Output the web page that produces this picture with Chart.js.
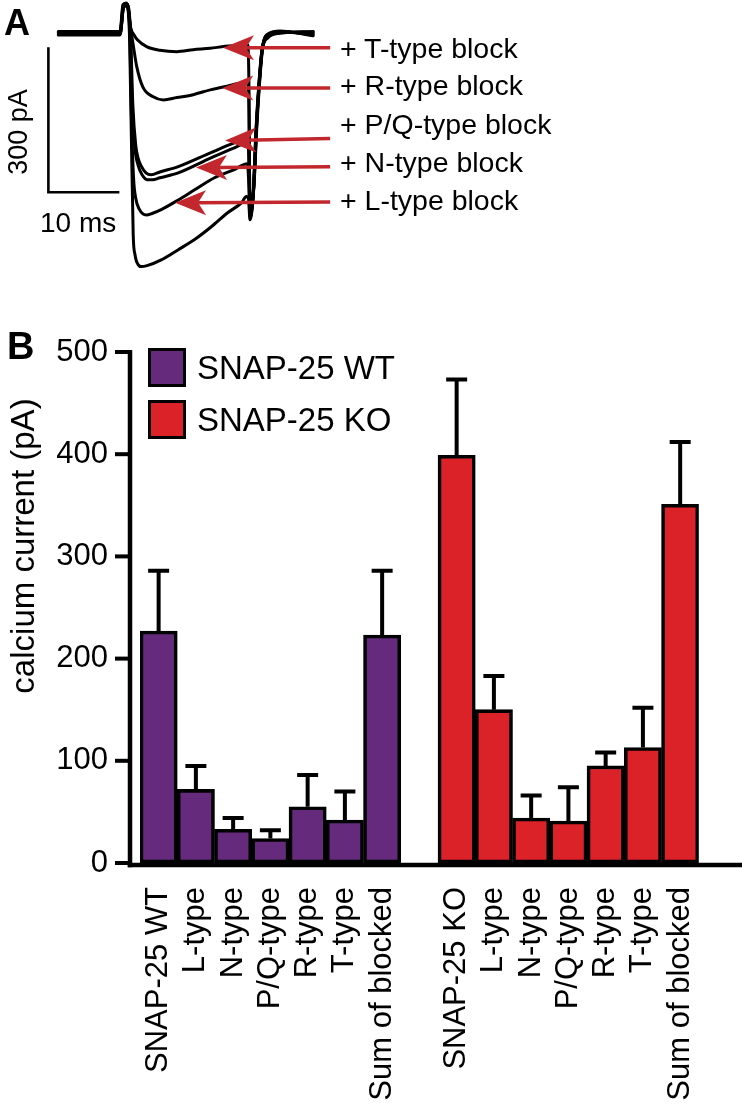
<!DOCTYPE html>
<html>
<head>
<meta charset="utf-8">
<script src="https://cdn.jsdelivr.net/npm/chart.js@4.4.1/dist/chart.umd.min.js"></script>
<style>
  html, body { margin: 0; padding: 0; background: #fff; }
  body { width: 742px; height: 1115px; position: relative; overflow: hidden;
         font-family: "Liberation Sans", Arial, Helvetica, sans-serif; color: #000; }
  canvas { position: absolute; left: 0; }
  #chartA { top: 0; }
  #chartB { top: 300px; }
  .txt { position: absolute; line-height: 1; white-space: nowrap; }
  .panel { font-weight: bold; }
  .rot { transform: translate(-50%, -50%) rotate(-90deg); }
  .legend-row { position: absolute; left: 148px; height: 39px; display: flex; align-items: center; }
  .swatch { width: 38px; height: 39px; box-sizing: border-box; border: 3px solid #000; }
  .legend-row span { font-size: 33px; line-height: 1; margin-left: 11px; }
</style>
</head>
<body>
<canvas id="chartA" width="742" height="290"></canvas>
<canvas id="chartB" width="742" height="815"></canvas>

<div class="txt panel" style="left:4px; top:5px; font-size:36px;">A</div>
<div class="txt panel" style="left:7px; top:327px; font-size:38px;">B</div>
<div class="txt rot" style="left:18px; top:132px; font-size:27px;">300 pA</div>
<div class="txt" style="left:40px; top:209px; font-size:28px;">10 ms</div>
<div class="txt rot" style="left:22px; top:546px; font-size:33px;">calcium current (pA)</div>
<div id="arrowLabels"></div>
<div id="legendB"></div>

<script>
// ---- panel A: example current traces, [time (ms), current (pA)] ----
var traceControl = [[-8.7,3],[0,3],[0.4,58],[0.85,62],[1.3,6],[1.55,-180],[1.85,-418],[2.1,-459],[2.55,-480],[3.0,-484],[3.8,-482],[5.8,-470],[8.2,-449],[10.5,-428],[12.9,-401],[15.2,-372],[17.1,-352],[17.8,-339],[18.1,-345],[18.3,-387],[18.7,-345],[19.15,-200],[19.6,-97],[20.0,-35],[20.85,-10],[22.5,-1],[27.2,3]];
var traceL = [[-8.7,1.5],[0,1.5],[0.45,57],[0.9,60],[1.35,8],[1.6,-170],[1.9,-300],[2.2,-342],[2.7,-365],[3.7,-377],[4.5,-374],[5.8,-366],[8.2,-346],[10.5,-325],[13.3,-300],[16.1,-283],[17.9,-271],[18.1,-300],[18.3,-382],[18.75,-340],[19.2,-196],[19.65,-94],[20.05,-33],[20.9,-8],[22.5,0],[27.2,2]];
var traceN = [[-8.7,0],[0,0],[0.5,56],[0.95,59],[1.4,10],[1.7,-150],[2.1,-240],[2.6,-277],[3.1,-294],[3.8,-304],[4.6,-304],[5.6,-300],[8.2,-290],[12.8,-259],[16.1,-238],[17.95,-228],[18.15,-260],[18.3,-376],[18.75,-336],[19.2,-193],[19.65,-91],[20.05,-30],[20.9,-6],[22.5,1],[27.2,0]];
var tracePQ = [[-8.7,-1.5],[0,-1.5],[0.5,55],[0.95,58],[1.45,10],[1.8,-150],[2.2,-232],[2.55,-260],[2.95,-275],[3.65,-290],[4.4,-294],[5.6,-288],[8.2,-277],[12.8,-248],[16.1,-228],[18.0,-219],[18.15,-250],[18.3,-370],[18.8,-330],[19.25,-190],[19.7,-89],[20.1,-28],[20.95,-5],[22.5,2],[27.2,-2]];
var traceR = [[-8.7,-3],[0,-3],[0.5,54],[1.0,57],[1.5,8],[1.85,-25],[2.35,-70],[3.2,-112],[4.6,-132],[6.1,-139],[8.0,-134],[10.3,-128],[12.7,-118],[14.5,-112],[18.0,-103],[18.15,-150],[18.3,-362],[18.8,-324],[19.25,-188],[19.7,-87],[20.1,-26],[20.95,-3],[22.5,3],[27.2,-4]];
var traceT = [[-8.7,-4.5],[0,-4.5],[0.5,53],[1.0,56],[1.5,10],[2.0,-5],[2.4,-14],[3.8,-29],[5.6,-36],[8.0,-39],[10.3,-35],[12.7,-32],[14.8,-28],[18.0,-25],[18.15,-100],[18.3,-355],[18.85,-318],[19.3,-186],[19.75,-85],[20.15,-24],[21.0,-1],[22.5,4],[27.2,-6]];

// scale bar: 10 ms x 300 pA
var scaleBarT = [-10.1, -10.1, -0.1];
var scaleBarI = [-30, -330, -330];

// arrows pointing at each trace
var arrowLabels = ['+ T-type block', '+ R-type block', '+ P/Q-type block', '+ N-type block', '+ L-type block'];
var arrowTipT = [14.5, 14.4, 14.8, 10.7, 7.75];
var arrowTipI = [-31, -114, -223, -279, -352];
var arrowTailT = [29.6, 29.6, 29.6, 29.6, 29.6];
var arrowTailI = [-31, -114, -219, -277, -350];

// ---- panel B: calcium current (pA), mean and SEM ----
var wtLabels = ['SNAP-25 WT', 'L-type', 'N-type', 'P/Q-type', 'R-type', 'T-type', 'Sum of blocked'];
var koLabels = ['SNAP-25 KO', 'L-type', 'N-type', 'P/Q-type', 'R-type', 'T-type', 'Sum of blocked'];
var wtMeans = [227, 72, 33, 24, 55, 42, 223];
var wtSem = [59, 23, 11, 8, 31, 28, 63];
var koMeans = [399, 150, 44, 41, 95, 113, 351];
var koSem = [74, 33, 22, 33, 13, 39, 61];
var yTicks = [0, 100, 200, 300, 400, 500];

var purple = '#652a7c';
var red = '#dc2229';
var arrowRed = '#c1272d';

Chart.defaults.font.family = '"Liberation Sans", Arial, Helvetica, sans-serif';
Chart.defaults.color = '#000';

function toPts(arr) {
    return arr.map(function (p) { return { x: p[0], y: p[1] }; });
}

var traces = [traceControl, traceL, traceN, tracePQ, traceR, traceT];
var dsA = traces.map(function (tr) {
    return {
        data: toPts(tr),
        borderColor: '#000',
        borderWidth: 3,
        pointRadius: 0,
        cubicInterpolationMode: 'monotone',
        borderJoinStyle: 'round',
        borderCapStyle: 'round',
        fill: false,
        clip: false
    };
});
dsA.push({
    data: scaleBarT.map(function (t, i) { return { x: t, y: scaleBarI[i] }; }),
    borderColor: '#000',
    borderWidth: 2.6,
    pointRadius: 0,
    tension: 0,
    fill: false,
    clip: false
});

var arrowPlugin = {
    id: 'arrows',
    afterDatasetsDraw: function (chart) {
        var ctx = chart.ctx, xs = chart.scales.x, ys = chart.scales.y;
        ctx.save();
        ctx.strokeStyle = arrowRed;
        ctx.fillStyle = arrowRed;
        ctx.lineWidth = 3.5;
        for (var i = 0; i < arrowTipT.length; i++) {
            var tx = xs.getPixelForValue(arrowTipT[i]), ty = ys.getPixelForValue(arrowTipI[i]);
            var ex = xs.getPixelForValue(arrowTailT[i]), ey = ys.getPixelForValue(arrowTailI[i]);
            var ang = Math.atan2(ty - ey, tx - ex);
            ctx.save();
            ctx.translate(tx, ty);
            ctx.rotate(ang);
            var len = Math.hypot(tx - ex, ty - ey);
            ctx.beginPath();
            ctx.moveTo(-len, 0);
            ctx.lineTo(-20, 0);
            ctx.stroke();
            ctx.beginPath();
            ctx.moveTo(0, 0);
            ctx.lineTo(-31, -12.5);
            ctx.lineTo(-23, 0);
            ctx.lineTo(-31, 12.5);
            ctx.closePath();
            ctx.fill();
            ctx.restore();
        }
        ctx.restore();
    }
};

new Chart(document.getElementById('chartA'), {
    type: 'line',
    data: { datasets: dsA },
    options: {
        responsive: false,
        animation: false,
        devicePixelRatio: 1,
        events: [],
        layout: { padding: { left: 42, right: 409, top: 0, bottom: 6 } },
        scales: {
            x: { type: 'linear', display: false, min: -11, max: 30 },
            y: { type: 'linear', display: false, min: -520, max: 68 }
        },
        plugins: { legend: { display: false }, tooltip: { enabled: false } }
    },
    plugins: [arrowPlugin]
});

// arrow labels (text)
var labelTops = [33.5, 71, 109.5, 147.5, 186];
var holder = document.getElementById('arrowLabels');
arrowLabels.forEach(function (txt, i) {
    var d = document.createElement('div');
    d.className = 'txt';
    d.style.left = '340px';
    d.style.top = labelTops[i] + 'px';
    d.style.fontSize = '28.5px';
    d.textContent = txt;
    holder.appendChild(d);
});

// ---- panel B chart ----
var gap = [null];
var labelsB = wtLabels.concat([''], koLabels);
var emptyRun = wtMeans.map(function () { return null; });
var wtData = wtMeans.concat(gap, emptyRun);
var koData = emptyRun.concat(gap, koMeans);
var wtErr = wtSem.concat(gap, emptyRun);
var koErr = emptyRun.concat(gap, koSem);

var errorBarPlugin = {
    id: 'errorBars',
    afterDatasetsDraw: function (chart) {
        var ctx = chart.ctx, ys = chart.scales.y;
        ctx.save();
        ctx.strokeStyle = '#000';
        ctx.lineWidth = 4;
        chart.data.datasets.forEach(function (ds, di) {
            var meta = chart.getDatasetMeta(di);
            meta.data.forEach(function (bar, i) {
                var v = ds.data[i], e = ds.sem[i];
                if (v == null || e == null) return;
                var yTop = ys.getPixelForValue(v + e);
                ctx.beginPath();
                ctx.moveTo(bar.x, bar.y);
                ctx.lineTo(bar.x, yTop);
                ctx.moveTo(bar.x - 10.5, yTop);
                ctx.lineTo(bar.x + 10.5, yTop);
                ctx.stroke();
            });
        });
        ctx.restore();
    }
};

var axisPlugin = {
    id: 'axisLines',
    afterDatasetsDraw: function (chart) {
        var a = chart.chartArea, ys = chart.scales.y, ctx = chart.ctx;
        var ax = a.left - 10, ay = a.bottom + 2;
        ctx.save();
        ctx.strokeStyle = '#000';
        ctx.lineWidth = 4.5;
        ctx.beginPath();
        ctx.moveTo(ax, ys.getPixelForValue(yTicks[yTicks.length - 1]) - 2);
        ctx.lineTo(ax, ay + 2.25);
        ctx.stroke();
        ctx.beginPath();
        ctx.moveTo(ax - 2.25, ay);
        ctx.lineTo(chart.width, ay);
        ctx.stroke();
        ctx.lineWidth = 4;
        yTicks.forEach(function (v) {
            var y = ys.getPixelForValue(v);
            ctx.beginPath();
            ctx.moveTo(ax - 15, y);
            ctx.lineTo(ax, y);
            ctx.stroke();
        });
        ctx.restore();
    }
};

var barStyle = {
    borderColor: '#000',
    borderWidth: 3.6,
    borderSkipped: false,
    barPercentage: 1,
    categoryPercentage: 1,
    grouped: false
};

var chartB = new Chart(document.getElementById('chartB'), {
    type: 'bar',
    data: {
        labels: labelsB,
        datasets: [
            Object.assign({ label: 'SNAP-25 WT', data: wtData, sem: wtErr, backgroundColor: purple }, barStyle),
            Object.assign({ label: 'SNAP-25 KO', data: koData, sem: koErr, backgroundColor: red }, barStyle)
        ]
    },
    options: {
        responsive: false,
        animation: false,
        devicePixelRatio: 1,
        events: [],
        layout: { padding: { left: 0, right: 19, top: 52, bottom: 0 } },
        scales: {
            x: {
                offset: true,
                grid: { display: false, drawTicks: false },
                border: { display: false },
                ticks: { autoSkip: false, minRotation: 90, maxRotation: 90, padding: 24, color: '#000', font: { size: 31 } },
                afterFit: function (s) { s.height = 252; }
            },
            y: {
                min: 0,
                max: 500,
                grid: { display: false, drawTicks: false },
                border: { display: false },
                ticks: { stepSize: 100, padding: 32, color: '#000', font: { size: 31 } },
                afterBuildTicks: function (s) { s.ticks = yTicks.map(function (v) { return { value: v }; }); },
                afterFit: function (s) { s.width = 140; }
            }
        },
        plugins: { legend: { display: false }, tooltip: { enabled: false } }
    },
    plugins: [errorBarPlugin, axisPlugin]
});

// legend built from the chart's datasets
var legendTops = [348, 400];
var legendBox = document.getElementById('legendB');
chartB.data.datasets.forEach(function (ds, i) {
    var row = document.createElement('div');
    row.className = 'legend-row';
    row.style.top = legendTops[i] + 'px';
    var sw = document.createElement('div');
    sw.className = 'swatch';
    sw.style.background = ds.backgroundColor;
    var t = document.createElement('span');
    t.textContent = ds.label;
    row.appendChild(sw);
    row.appendChild(t);
    legendBox.appendChild(row);
});
</script>
</body>
</html>
